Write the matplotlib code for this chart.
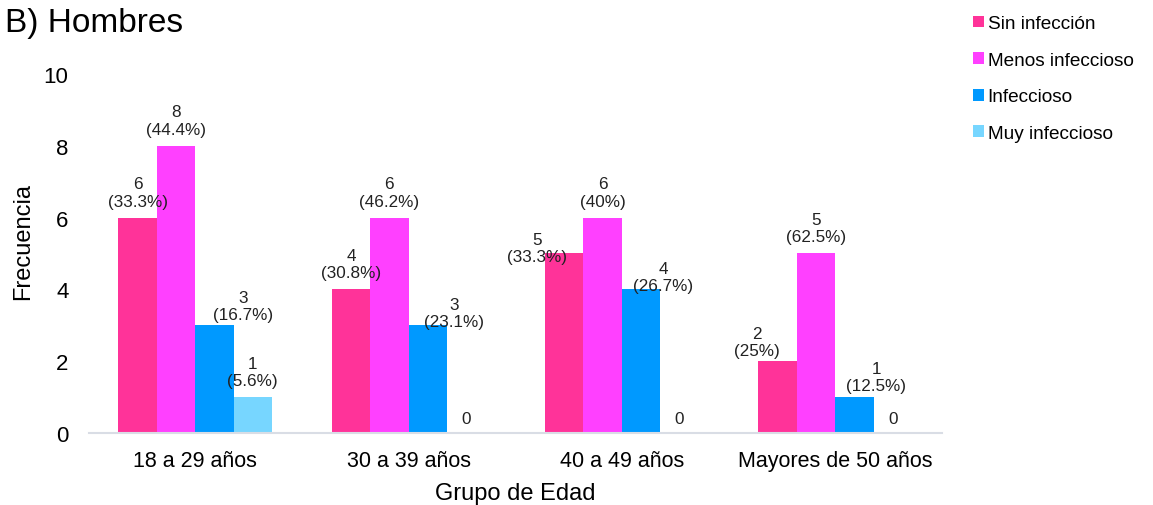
import matplotlib
matplotlib.use("Agg")
import matplotlib.pyplot as plt
import numpy as np

plt.rcParams['font.family'] = ['Liberation Sans', 'DejaVu Sans']

grupos = ['18 a 29 años', '30 a 39 años', '40 a 49 años', 'Mayores de 50 años']
series = ['Sin infección', 'Menos infeccioso', 'Infeccioso', 'Muy infeccioso']
sin_infeccion = [6, 4, 5, 2]
menos_infeccioso = [8, 6, 6, 5]
infeccioso = [3, 3, 4, 1]
muy_infeccioso = [1, 0, 0, 0]
pct_sin = ['33.3%', '30.8%', '33.3%', '25%']
pct_menos = ['44.4%', '46.2%', '40%', '62.5%']
pct_inf = ['16.7%', '23.1%', '26.7%', '12.5%']
pct_muy = ['5.6%', '', '', '']
colores = ['#FF3399', '#FF40FF', '#0099FF', '#77D6FF']

valores = [sin_infeccion, menos_infeccioso, infeccioso, muy_infeccioso]
porcentajes = [pct_sin, pct_menos, pct_inf, pct_muy]

# desplazamiento manual de algunas etiquetas (serie, grupo) -> (dx, dy) en pixeles
ajustes = {
    (2, 0): (29, -6),
    (2, 1): (26, -13),
    (0, 2): (-27, -20),
    (2, 2): (22, -13),
    (0, 3): (-21, -6),
    (2, 3): (22, -5),
}

fig = plt.figure(figsize=(11.53, 5.06), dpi=100)
ax = fig.add_axes([0.0768, 0.1423, 0.74, 0.7095])

x = np.arange(len(grupos))
w = 0.18
for i in range(len(series)):
    pos = x + (i - 1.5) * w
    ax.bar(pos, valores[i], w, color=colores[i], label=series[i])
    for j in range(len(grupos)):
        v = valores[i][j]
        if v == 0:
            ax.annotate('0', (pos[j], 0), xytext=(0, 7), textcoords='offset pixels',
                        ha='center', va='bottom', fontsize=12.3, color='#222222')
        else:
            dx, dy = ajustes.get((i, j), (0, 0))
            ax.annotate("{0}\n({1})".format(v, porcentajes[i][j]), (pos[j], v),
                        xytext=(dx, 9 + dy), textcoords='offset pixels',
                        ha='center', va='bottom', fontsize=12.3, color='#222222')

ax.set_xlim(-0.5, 3.5)
ax.set_ylim(0, 10)
ax.set_yticks(range(0, 11, 2))
ax.set_xticks(x)
ax.set_xticklabels(grupos, fontsize=15.5)
ax.tick_params(axis='y', labelsize=16, length=0, pad=14.5)
ax.tick_params(axis='x', length=0, pad=12)
for s in ['top', 'right', 'left']:
    ax.spines[s].set_visible(False)
ax.spines['bottom'].set_color('#D9DDE5')
ax.spines['bottom'].set_linewidth(1.5)
ax.set_ylabel('Frecuencia', fontsize=17)
ax.set_xlabel('Grupo de Edad', fontsize=17)
ax.yaxis.set_label_coords(-0.0639, 0.536)
ax.xaxis.set_label_coords(0.5, -0.136)

fig.text(0.004, 0.9545, 'B) Hombres', fontsize=24, va='center', ha='left')

fig.legend(loc='upper left', bbox_to_anchor=(0.837, 0.983), frameon=False,
           fontsize=13.7, handlelength=0.58, handleheight=0.58, handletextpad=0.2,
           labelspacing=1.03, borderaxespad=0)

fig.savefig('out.png', dpi=100)
